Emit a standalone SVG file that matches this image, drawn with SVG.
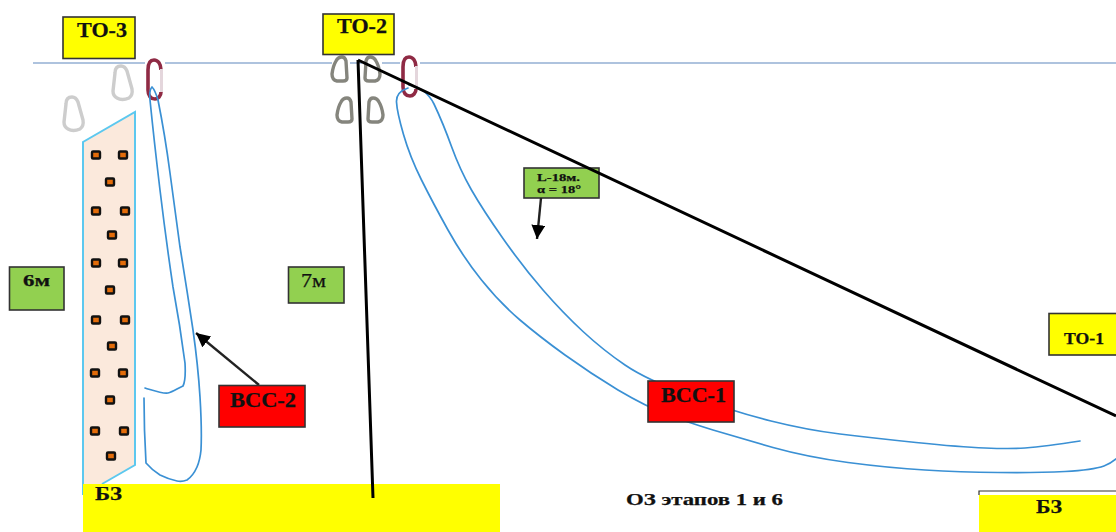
<svg xmlns="http://www.w3.org/2000/svg" width="1116" height="532" viewBox="0 0 1116 532">
<style>
text{font-family:"Liberation Serif","DejaVu Serif",serif;font-weight:bold;fill:#111;stroke:#111;stroke-width:.25}
.y{fill:#ff0;stroke:#333;stroke-width:1.6}
.r{fill:#f00;stroke:#333;stroke-width:1.6}
.g{fill:#92d050;stroke:#333;stroke-width:1.6}
.rope{fill:none;stroke:#3a90d4;stroke-width:1.7;stroke-linecap:round}
.blk{fill:none;stroke:#000;stroke-width:3}
.ptr{fill:none;stroke:#222;stroke-width:2.4}
.lg{fill:none;stroke:#cdcdcd;stroke-width:3.4;stroke-linejoin:round}
.dg{fill:none;stroke:#85857d;stroke-width:3.4;stroke-linejoin:round}
.dot{fill:#e36c0a;stroke:#111;stroke-width:2.400}
</style>
<defs>
<marker id="ah" markerUnits="userSpaceOnUse" markerWidth="16" markerHeight="16" refX="14" refY="7" orient="auto"><path d="M0 0L14 7L0 14Z" fill="#000"/></marker>
<rect id="d" x="-4" y="-3.500" width="8" height="7" rx="1"/>
<path id="cb" d="M-7-10Q-7-17-1-17Q3-17 5-12L10 6Q11 12 7 15Q0 18-5 15Q-9 13-9 8Z"/>
<path id="cs" d="M2-12Q5-12 6-8L7 9Q7 12 3 12L-3 12Q-8 11-8 5Q-7-3-4-8Q-2-12 2-12Z"/>
</defs>
<g id="baseline"><path d="M33 63H145M165 63H332M350 63H362M382 63H400M420 63H1116" fill="none" stroke="#5f88bd" stroke-width="1.200"/></g>
<g id="panel">
<path d="M83 495V142L135 112V465L102 484" fill="#fbe9dc" stroke="#5cc8ef" stroke-width="2"/>
<g class="dot">
<use href="#d" x="96" y="155"/><use href="#d" x="123" y="155"/><use href="#d" x="110" y="182"/>
<use href="#d" x="96" y="211"/><use href="#d" x="125" y="211"/><use href="#d" x="112" y="235"/>
<use href="#d" x="96" y="263"/><use href="#d" x="123" y="263"/><use href="#d" x="110" y="290"/>
<use href="#d" x="96" y="320"/><use href="#d" x="125" y="320"/><use href="#d" x="112" y="346"/>
<use href="#d" x="95" y="373"/><use href="#d" x="123" y="373"/><use href="#d" x="110" y="400"/>
<use href="#d" x="95" y="431"/><use href="#d" x="124" y="431"/><use href="#d" x="111" y="456"/>
</g></g>
<g id="carabiners">
<use href="#cb" class="lg" x="122" y="83"/>
<use href="#cb" class="lg" x="73" y="114"/>
<use href="#cs" class="dg" x="340" y="69"/>
<use href="#cs" class="dg" transform="translate(372 69) scale(-1 1)"/>
<use href="#cs" class="dg" x="345" y="110"/>
<use href="#cs" class="dg" transform="translate(375 110) scale(-1 1)"/>
<g id="red-carabiner-3"><path d="M161 70C161 64 158 60 154 60C150 60 148 64 148 70V90C148 96 151 99 155 99C158 99 161 96 161 92" fill="none" stroke="#8f2a44" stroke-width="3.600"/><path d="M161.500 69V92" stroke="#e4d6dc" stroke-width="3"/></g>
<g id="red-carabiner-2"><path d="M416 67C416 61 413 57 409 57C405 57 403 61 403 67V87C403 93 406 96 410 96C413 96 416 93 416 89" fill="none" stroke="#8f2a44" stroke-width="3.600"/><path d="M416.500 66V89" stroke="#e4d6dc" stroke-width="3"/></g>
</g>
<g id="bz-left"><rect x="83" y="484" width="417" height="48" fill="#ff0"/><text x="95" y="500" font-size="19" textLength="27" lengthAdjust="spacingAndGlyphs">БЗ</text></g>
<g id="bz-right"><path d="M979 495V491H1116" fill="none" stroke="#333" stroke-width="1.200"/><rect x="979" y="495" width="137" height="37" fill="#ff0"/><text x="1036" y="513" font-size="19" textLength="26" lengthAdjust="spacingAndGlyphs">БЗ</text></g>
<g id="to3"><rect class="y" x="63" y="17" width="72" height="41.500"/><text x="77" y="37" font-size="20" textLength="50" lengthAdjust="spacingAndGlyphs">ТО-3</text></g>
<g id="to2"><rect class="y" x="323" y="14" width="71" height="40.500"/><text x="337" y="33" font-size="20" textLength="50" lengthAdjust="spacingAndGlyphs">ТО-2</text></g>
<g id="to1"><rect class="y" x="1049" y="313.500" width="70" height="41.500"/><text x="1064" y="344" font-size="16" textLength="40" lengthAdjust="spacingAndGlyphs">ТО-1</text></g>
<g id="l18"><rect class="g" x="524" y="168" width="75" height="30"/><text x="537" y="181" font-size="10.500" textLength="43" lengthAdjust="spacingAndGlyphs">L-18м.</text><text x="537" y="193" font-size="10.500" textLength="44" lengthAdjust="spacingAndGlyphs">α = 18°</text></g>
<g id="m6"><rect class="g" x="9.500" y="267" width="54.500" height="43"/><text x="23" y="286" font-size="17" textLength="27" lengthAdjust="spacingAndGlyphs">6м</text></g>
<g id="m7"><rect class="g" x="288.500" y="267" width="55.500" height="36"/><text x="301" y="287" font-size="19" textLength="25" lengthAdjust="spacingAndGlyphs" style="font-weight:normal">7м</text></g>
<g id="oz"><text x="626" y="505" font-size="16.500" textLength="157" lengthAdjust="spacingAndGlyphs">ОЗ этапов 1 и 6</text></g>
<g id="connectors">
<path class="rope" d="M145 388C155 391 163 394 168 393C173 392 178 388 183 386C186 380 185.500 372 185 363Q180 325 173 287Q166 240 160 190Q154 140 150 100Q149 90 152 87Q155 90 158 100Q165 135 170 173Q175 210 180 247Q187 290 193 330Q198 365 200 397Q202 430 201 450Q200 460 197 467Q193 476 187 480Q182 482 177 481Q168 479 160 475Q152 470 146 463Q144 430 144 398"/>
<path class="rope" d="M408 88Q396 92 396.500 102Q397 112 403.500 134.500Q410 157 421.500 180Q433 203 448 230Q463 257 481.500 280Q500 303 520 320Q540 337 565 355Q590 373 618 390Q647 407 667 414.500Q687 422 713 430Q740 438 773 447.500Q807 457 848 462.500Q890 468 925 470Q960 472 998 472.500Q1037 473 1065 471.500Q1093 470 1104 466Q1110 464 1116 459"/>
<path class="rope" d="M409 85Q426 88 434 104Q443 123 451.500 146.500Q460 170 471.500 190Q483 210 503 238.500Q523 267 543 290Q563 313 583 331.500Q603 350 625 365Q647 380 691 396Q735 412 771 421Q807 430 840 434Q873 438 916 442.500Q960 447 985 448Q1010 449 1025 448Q1045 446.500 1080 441"/>
<path class="blk" d="M358 60L373 498M358 60L1116 416"/>
<path class="ptr" d="M259 385L196 333" marker-end="url(#ah)"/>
<path class="ptr" d="M541 198L537 239" marker-end="url(#ah)"/>
</g>
<g id="vcc1"><rect class="r" x="648" y="381" width="86" height="41"/><text x="661" y="401.500" font-size="20" textLength="65" lengthAdjust="spacingAndGlyphs">ВСС-1</text></g>
<g id="vcc2"><rect class="r" x="219" y="385.500" width="86" height="41.500"/><text x="230" y="407" font-size="20" textLength="66" lengthAdjust="spacingAndGlyphs">ВСС-2</text></g>
</svg>
